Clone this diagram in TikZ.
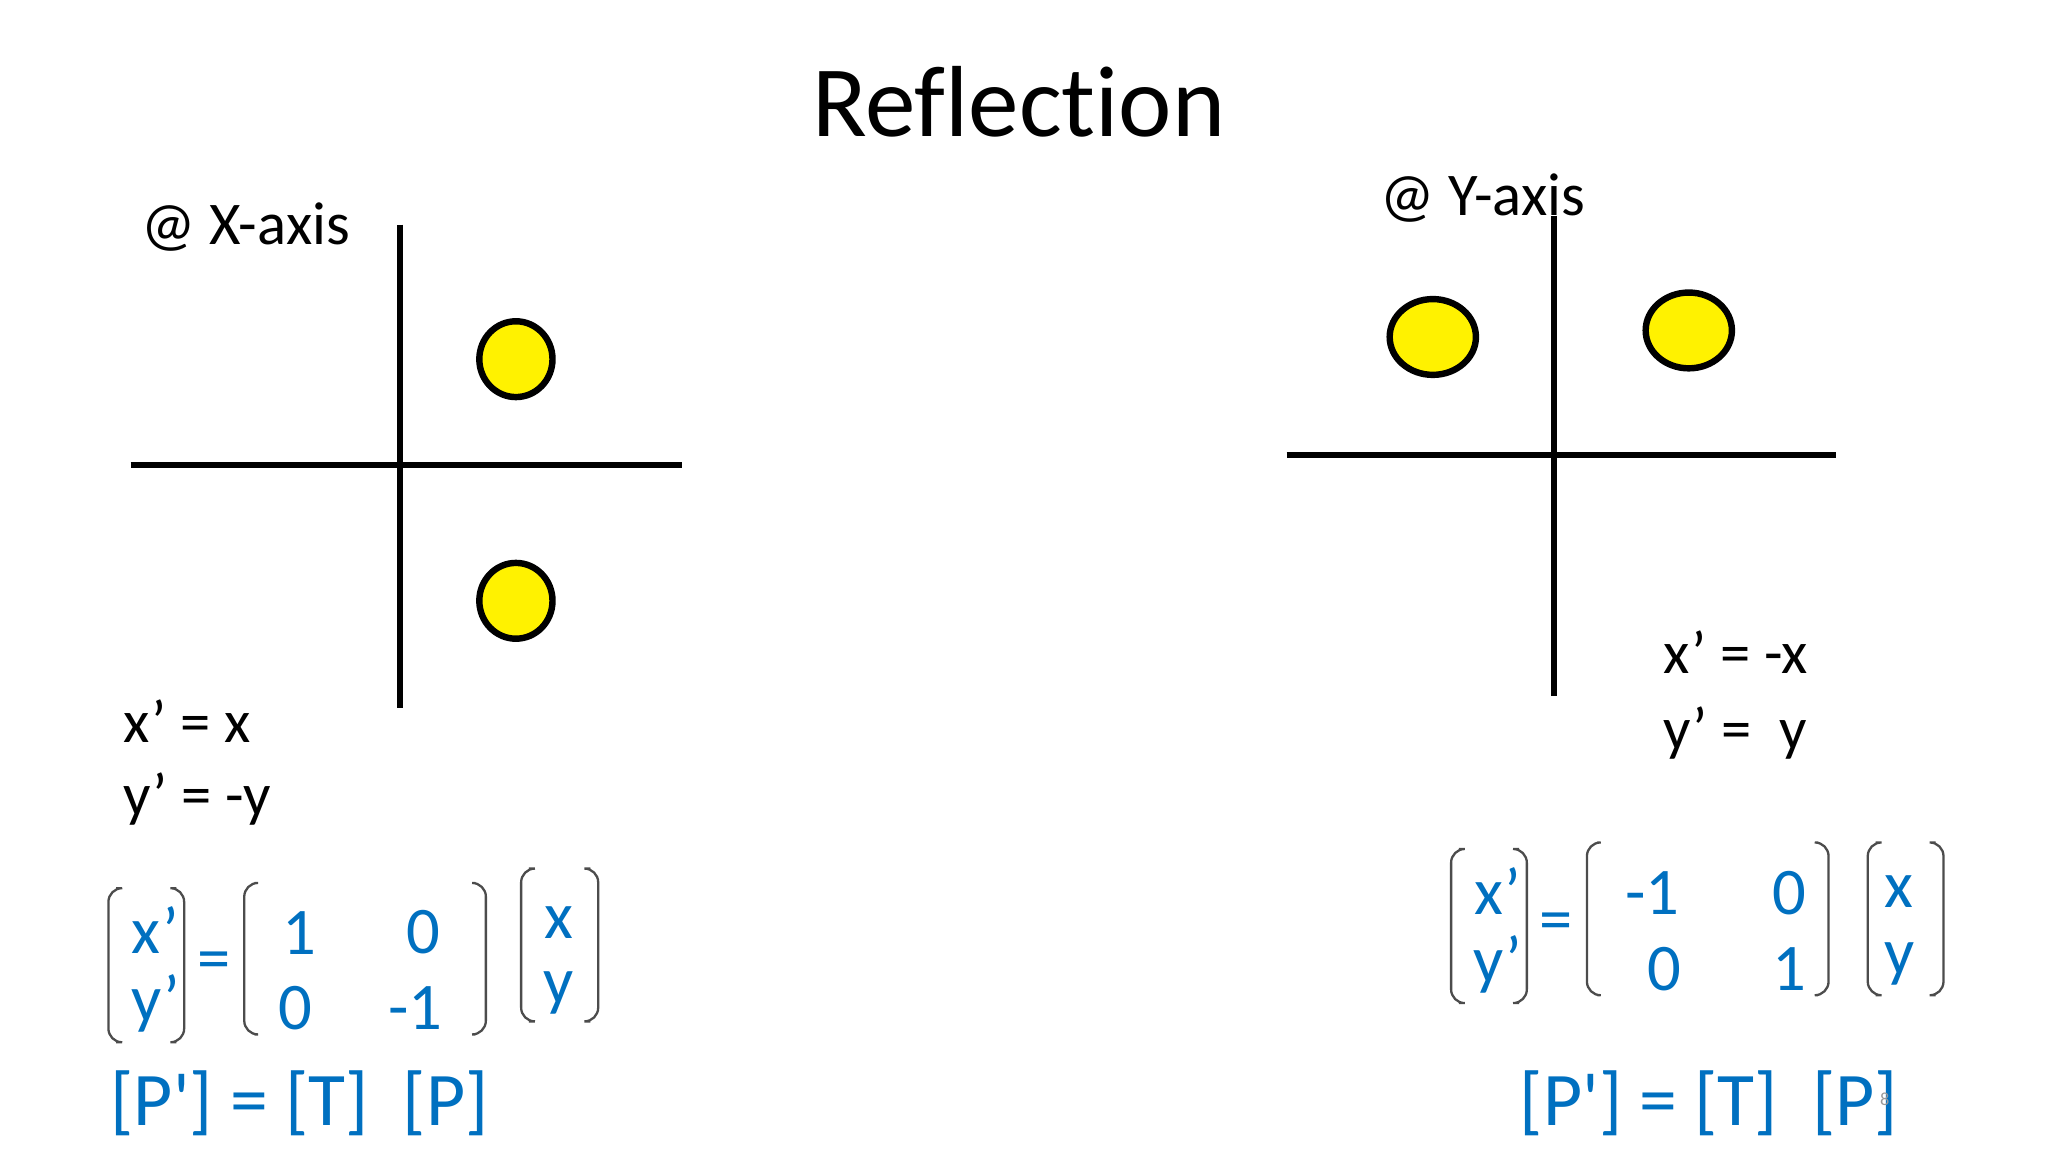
\documentclass[tikz,border=0pt]{standalone}
\usepackage{fontspec}
\usetikzlibrary{shapes.geometric}
\setmainfont{Carlito}[Ligatures={NoCommon}]
\definecolor{obl}{RGB}{0,112,192}
\begin{document}
\begin{tikzpicture}[x=0.01cm,y=-0.01cm,
  ax/.style={line width=1.3pt},
  dot/.style={ellipse,draw=black,line width=1.4pt,fill=yellow,inner sep=0pt},
  lbl/.style={font=\fontsize{13.2}{16}\selectfont,anchor=west,inner sep=0pt},
  bl/.style={text=obl,font=\fontsize{14.5}{17}\selectfont,inner sep=0pt},
  par/.style={draw=black!70,line width=0.5pt,rounded corners=3pt}]
\useasboundingbox (0,0) rectangle (1568,882);
\node[font=\fontsize{22}{26}\selectfont] (title) at (780,78) {Reflection};
% left
\node[lbl] (lx) at (108,174) {@ X-axis};
\draw[ax] (306,172) coordinate (lv1) -- (306,542) coordinate (lv2);
\draw[ax] (100,356) coordinate (lh1) -- (522,356) coordinate (lh2);
\node[dot,minimum width=0.56cm,minimum height=0.58cm] (c1) at (395,275) {};
\node[dot,minimum width=0.56cm,minimum height=0.58cm] (c2) at (395,460) {};
\node[lbl] (e1) at (94,552) {x’ = x};
\node[lbl] (e2) at (94,612) {y’ = -y};
% left matrices
\draw[par] (89,680)--(83,680)--(83,798)--(89,798);
\draw[par] (135,680)--(141,680)--(141,798)--(135,798);
\node[bl] (a1) at (119,712) {x’};
\node[bl] (a2) at (119,768) {y’};
\node[bl] (aeq) at (164,740) {=};
\draw[par] (195,676)--(187,676)--(187,792)--(195,792);
\draw[par] (364,676)--(372,676)--(372,792)--(364,792);
\node[bl] (m11) at (229,714) {1};
\node[bl] (m12) at (324,714) {0};
\node[bl] (m21) at (226,772) {0};
\node[bl] (m22) at (318,772) {-1};
\draw[par] (405,665)--(399,665)--(399,782)--(405,782);
\draw[par] (452,665)--(458,665)--(458,782)--(452,782);
\node[bl] (v1) at (428,706) {x};
\node[bl] (v2) at (428,760) {y};
\node[bl,font=\fontsize{16.5}{20}\selectfont,anchor=west] (pl) at (84,845) {[P\textquotesingle] = [T]\ \ [P]};
% right
\node[lbl] (ly) at (1056,152) {@ Y-axis};
\draw[ax] (1190,165) coordinate (rv1) -- (1190,533) coordinate (rv2);
\draw[ax] (985,348) coordinate (rh1) -- (1406,348) coordinate (rh2);
\node[dot,minimum width=0.66cm,minimum height=0.58cm] (c3) at (1097,258) {};
\node[dot,minimum width=0.66cm,minimum height=0.58cm] (c4) at (1293,253) {};
\node[lbl] (e3) at (1273,499) {x’ = -x};
\node[lbl] (e4) at (1273,561) {y’ =\ \ y};
\draw[par] (1117,650)--(1111,650)--(1111,768)--(1117,768);
\draw[par] (1163,650)--(1169,650)--(1169,768)--(1163,768);
\node[bl] (b1) at (1147,682) {x’};
\node[bl] (b2) at (1147,738) {y’};
\node[bl] (beq) at (1191,710) {=};
\draw[par] (1223,645)--(1215,645)--(1215,762)--(1223,762);
\draw[par] (1392,645)--(1400,645)--(1400,762)--(1392,762);
\node[bl] (n11) at (1265,684) {-1};
\node[bl] (n12) at (1370,684) {0};
\node[bl] (n21) at (1274,742) {0};
\node[bl] (n22) at (1370,742) {1};
\draw[par] (1436,645)--(1430,645)--(1430,762)--(1436,762);
\draw[par] (1482,645)--(1488,645)--(1488,762)--(1482,762);
\node[bl] (w1) at (1454,683) {x};
\node[bl] (w2) at (1454,738) {y};
\node[bl,font=\fontsize{16.5}{20}\selectfont,anchor=west] (pr) at (1163,845) {[P\textquotesingle] = [T]\ \ [P]};
\node[text=black!40,font=\fontsize{4}{5}\selectfont] (pg) at (1443,842) {8};
\end{tikzpicture}
\end{document}
